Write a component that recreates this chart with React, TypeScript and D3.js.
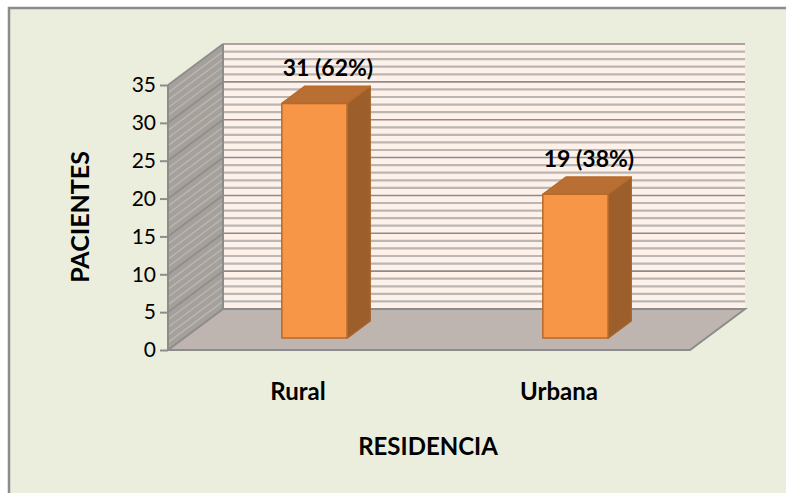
import React, { useRef, useEffect } from "react";
import * as d3 from "d3";

const categories = ["Rural", "Urbana"];
const patientValues = [31, 19];
const barLabels = ["31 (62%)", "19 (38%)"];
const yTickValues = [0, 5, 10, 15, 20, 25, 30, 35];
const gridValues = d3.range(1, 36);

const FONT = "Lato, Carlito, 'Open Sans', sans-serif";

const App = () => {
  const chartRef = useRef<SVGSVGElement>(null);

  useEffect(() => {
    const svg = d3.select(chartRef.current);
    svg.selectAll("*").remove();

    // front edge of the floor, the back wall sits at an oblique offset from it
    const left = 168;
    const right = 690;
    const depthX = 55;
    const depthY = -41;
    const yScale = d3.scaleLinear().domain([0, 35]).range([350, 85]);
    const xScale = d3
      .scaleBand()
      .domain(categories)
      .range([left, right])
      .paddingInner(0.75)
      .paddingOuter(0.375);

    // z = 0 at the front of the box, z = 1 at the back wall
    const px = (x: number, z: number) => x + depthX * z;
    const py = (y: number, z: number) => y + depthY * z;
    const poly = (pts: [number, number][]) => pts.map((p) => p.join(",")).join(" ");

    // frame
    svg.append("rect").attr("x", 9).attr("y", 8).attr("width", 790).attr("height", 500)
      .attr("fill", "#ebeedd").attr("stroke", "#8c8c8c").attr("stroke-width", 2.5);

    // back wall
    svg.append("rect")
      .attr("x", px(left, 1)).attr("y", py(yScale(35), 1))
      .attr("width", right - left).attr("height", yScale(0) - yScale(35))
      .attr("fill", "#fef1ea");

    // side wall
    svg.append("polygon")
      .attr("points", poly([
        [left, yScale(0)],
        [left, yScale(35)],
        [px(left, 1), py(yScale(35), 1)],
        [px(left, 1), py(yScale(0), 1)],
      ]))
      .attr("fill", "#a6a09b");

    // floor
    svg.append("polygon")
      .attr("points", poly([
        [left, yScale(0)],
        [right, yScale(0)],
        [px(right, 1), py(yScale(0), 1)],
        [px(left, 1), py(yScale(0), 1)],
      ]))
      .attr("fill", "#bfb5b0");

    // minor then major gridlines
    const isMajor = (d: number) => d % 5 === 0;
    const grid = svg.append("g").selectAll("g").data(gridValues.slice().sort((a, b) => +isMajor(a) - +isMajor(b))).enter().append("g");
    grid.append("line")
      .attr("stroke", (d) => (isMajor(d) ? "#8c8c8c" : "#b9b6b3"))
      .attr("stroke-width", (d) => (isMajor(d) ? 1.6 : 2.2))
      .attr("x1", px(left, 1)).attr("x2", px(right, 1))
      .attr("y1", (d) => py(yScale(d), 1)).attr("y2", (d) => py(yScale(d), 1));
    grid.append("line")
      .attr("stroke", (d) => (isMajor(d) ? "#8c8c8c" : "#b9b6b3"))
      .attr("stroke-width", (d) => (isMajor(d) ? 1.6 : 1.4))
      .attr("x1", left).attr("x2", px(left, 1))
      .attr("y1", (d) => yScale(d)).attr("y2", (d) => py(yScale(d), 1));

    // floor and axis edges
    const edges = svg.append("g").attr("stroke", "#8c8c8c").attr("stroke-width", 2).attr("fill", "none");
    edges.append("polyline").attr("points", poly([
      [px(left, 1), py(yScale(0), 1)],
      [px(right, 1), py(yScale(0), 1)],
      [right, yScale(0)],
      [left, yScale(0)],
      [px(left, 1), py(yScale(0), 1)],
    ]));
    edges.append("line").attr("x1", left).attr("x2", left).attr("y1", yScale(0)).attr("y2", yScale(35));
    edges.append("line").attr("x1", px(left, 1)).attr("x2", px(left, 1)).attr("y1", py(yScale(0), 1)).attr("y2", py(yScale(35), 1));

    // y axis
    const yAxis = d3.axisLeft(yScale).tickValues(yTickValues).tickSize(8).tickPadding(4);
    const axisG = svg.append("g").attr("transform", `translate(${left},0)`).call(yAxis);
    axisG.select(".domain").remove();
    axisG.selectAll("line").attr("stroke", "#8c8c8c").attr("stroke-width", 2);
    axisG.selectAll("text").attr("font-family", FONT).attr("font-size", 21).attr("fill", "#000");

    // bars
    const zFront = 0.29;
    const zBack = 0.71;
    const barColor = "#b96a28";
    categories.forEach((cat, i) => {
      const x0 = px(xScale(cat)!, zFront);
      const x1 = x0 + xScale.bandwidth();
      const base = py(yScale(0), zFront);
      const top = base - (yScale(0) - yScale(patientValues[i]));
      const dx = depthX * (zBack - zFront);
      const dy = depthY * (zBack - zFront);
      const bar = svg.append("g").attr("stroke", barColor).attr("stroke-width", 1.5).attr("stroke-linejoin", "round");
      bar.append("polygon")
        .attr("points", poly([[x1, base], [x1, top], [x1 + dx, top + dy], [x1 + dx, base + dy]]))
        .attr("fill", "#9c5f2b").attr("stroke", "#a5642c");
      bar.append("polygon")
        .attr("points", poly([[x0, top], [x1, top], [x1 + dx, top + dy], [x0 + dx, top + dy]]))
        .attr("fill", "#b96f33");
      bar.append("rect")
        .attr("x", x0).attr("y", top).attr("width", x1 - x0).attr("height", base - top)
        .attr("fill", "#f79646");

      svg.append("text")
        .attr("x", x0 + (x1 - x0) / 2 + 13.5).attr("y", top - 27)
        .attr("text-anchor", "middle")
        .attr("font-family", FONT).attr("font-weight", 700).attr("font-size", 23).attr("fill", "#000")
        .text(barLabels[i]);

      svg.append("text")
        .attr("x", xScale(cat)! + xScale.bandwidth() / 2 - 0.5).attr("y", 400)
        .attr("text-anchor", "middle")
        .attr("font-family", FONT).attr("font-weight", 700).attr("font-size", 24).attr("fill", "#000")
        .text(cat);
    });

    // axis titles
    svg.append("text")
      .attr("x", 428).attr("y", 455)
      .attr("text-anchor", "middle")
      .attr("font-family", FONT).attr("font-weight", 700).attr("font-size", 24).attr("fill", "#000")
      .text("RESIDENCIA");
    svg.append("text")
      .attr("transform", "translate(89,217) rotate(-90)")
      .attr("text-anchor", "middle")
      .attr("font-family", FONT).attr("font-weight", 700).attr("font-size", 25).attr("fill", "#000")
      .text("PACIENTES");
  }, []);

  return (
    <svg
      ref={chartRef}
      width={786}
      height={493}
      style={{ position: "fixed", left: 0, top: 0, background: "#fff" }}
    />
  );
};

export default App;
